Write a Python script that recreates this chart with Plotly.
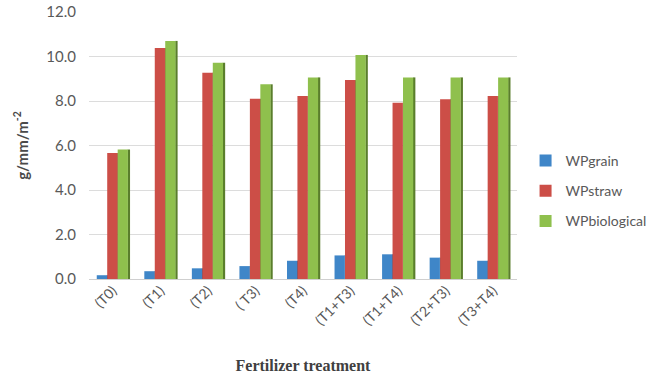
import plotly.graph_objects as go

# Water productivity by fertilizer treatment
treatments = ["(T0)", "(T1)", "(T2)", "( T3)", "(T4)", "(T1+T3)", "(T1+T4)", "(T2+T3)", "(T3+T4)"]
wp_grain = [0.17, 0.35, 0.48, 0.58, 0.82, 1.06, 1.11, 0.96, 0.82]
wp_straw = [5.66, 10.38, 9.27, 8.10, 8.22, 8.94, 7.92, 8.08, 8.22]
wp_biological = [5.82, 10.70, 9.72, 8.75, 9.06, 10.07, 9.06, 9.06, 9.06]

y_ticks = [0, 2, 4, 6, 8, 10, 12]

series = [
    ("WPgrain", wp_grain, "#3f86c8", "#2a5d8e", -0.337),
    ("WPstraw", wp_straw, "#cc4e47", "#8c302b", -0.117),
    ("WPbiological", wp_biological, "#8fc04d", "#5a7e2c", 0.103),
]
bar_w = 0.215
side_w = 0.05

fig = go.Figure()
for i, (name, vals, col, dark, off) in enumerate(series):
    # darker strip on the right edge gives the bars some depth
    fig.add_trace(go.Bar(
        x=treatments, y=vals, offset=off + bar_w - 0.005, width=side_w,
        marker=dict(color=dark, line=dict(width=0)),
        showlegend=False, hoverinfo="skip", legendgroup=name,
    ))
    fig.add_trace(go.Bar(
        x=treatments, y=vals, offset=off, width=bar_w, name=name,
        marker=dict(color=col, line=dict(width=0)), legendgroup=name,
    ))

fig.update_layout(
    width=672, height=379,
    barmode="overlay",
    paper_bgcolor="white", plot_bgcolor="white",
    margin=dict(l=89, r=155, t=12, b=100),
    font=dict(family="Lato, 'Open Sans', sans-serif", color="#595959"),
    legend=dict(
        x=1.02, xanchor="left", y=0.33, yanchor="middle",
        font=dict(size=14, color="#595959"),
        traceorder="grouped", tracegroupgap=9,
        itemwidth=30,
        bgcolor="rgba(0,0,0,0)",
    ),
    xaxis=dict(
        type="category", range=[-0.5, 8.5], automargin=False,
        tickangle=-45, tickfont=dict(size=14, color="#595959"),
        showgrid=False, showline=False, ticks="",
        title=dict(
            text="<b>Fertilizer treatment</b>",
            font=dict(family="'Liberation Serif', 'Times New Roman', serif", size=16, color="#404040"),
            standoff=32,
        ),
    ),
    yaxis=dict(
        range=[0, 12], tickvals=y_ticks, tickformat=".1f", automargin=False,
        tickfont=dict(size=15, color="#595959"),
        showgrid=True, gridcolor="#dcdcdc", gridwidth=1,
        zeroline=True, zerolinecolor="#cfcfcf", zerolinewidth=1,
        showline=False, ticks="", ticklabelstandoff=12,
        title=dict(
            text="<b>g/mm/m<sup>-2</sup></b>",
            font=dict(size=15, color="#4a4a4a"),
            standoff=14,
        ),
    ),
)

fig.write_html("out.html")
